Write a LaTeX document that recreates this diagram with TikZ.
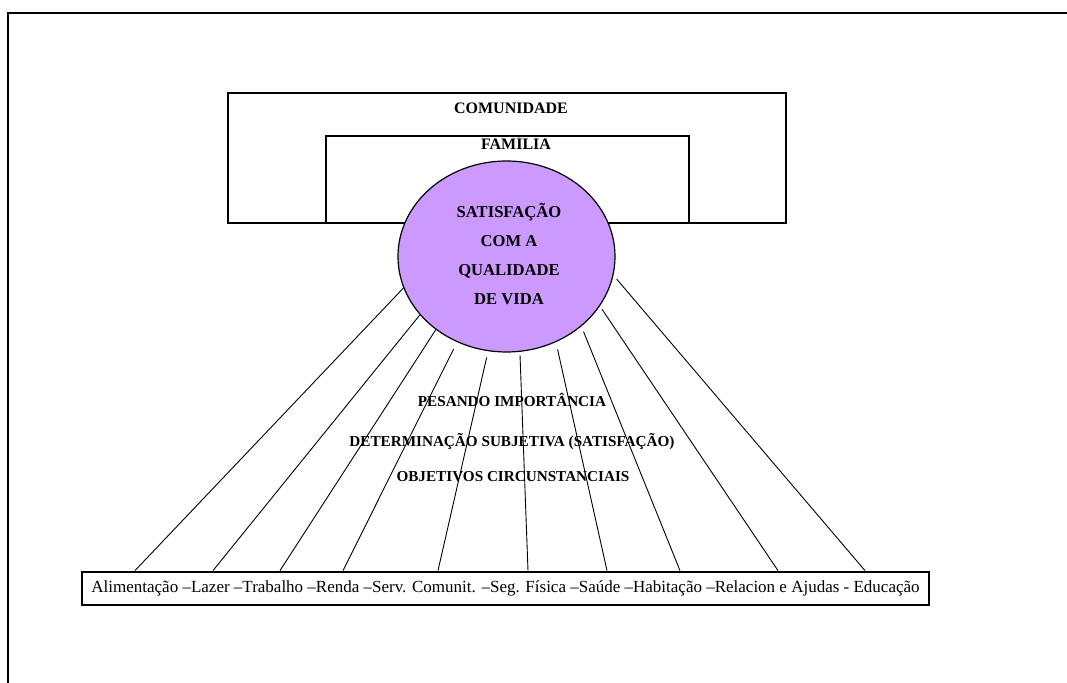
\documentclass[tikz,border=0pt]{standalone}
\usepackage{fontspec}
\setmainfont{Liberation Serif}
\usetikzlibrary{shapes.geometric}
\definecolor{lilas}{RGB}{204,153,255}

\begin{document}
\begin{tikzpicture}[x=0.5pt,y=-0.5pt,
  rotulo/.style={font=\fontsize{8}{9}\selectfont\bfseries, inner sep=0pt},
  meio/.style={font=\fontsize{7.6}{9}\selectfont\bfseries, inner sep=0pt},
  caixa/.style={draw, line width=0.6pt}]
\useasboundingbox (0,0) rectangle (1067,683);
% moldura
\draw[line width=1.3pt] (8,683) -- (8,13) -- (1067,13);
% comunidade e familia
\draw[caixa] (228,93) rectangle (786,223);
\draw[caixa] (326,136) rectangle (689,223);
\node[rotulo] (com) at (511,108) {COMUNIDADE};
\node[rotulo] (fam) at (516,143) {FAMÍLIA};
% circulo
\node[ellipse, draw, line width=0.6pt, fill=lilas, minimum width=108.5pt,
  minimum height=95.5pt, inner sep=0pt] (sat) at (506.5,256.5) {};
\node[rotulo, align=center, font=\fontsize{8.3}{14.5}\selectfont\bfseries]
  (satx) at (509,254) {SATISFAÇÃO\\COM A\\QUALIDADE\\DE VIDA};
% barra de dominios
\node[draw, line width=1.4pt, minimum width=423.5pt, minimum height=16.5pt,
  inner sep=0pt, font=\fontsize{8.5}{9}\selectfont] (bar) at (505.5,588.5)
  {Alimentação –Lazer –Trabalho –Renda –Serv. Comunit. –Seg. Física –Saúde –Habitação –Relacion e Ajudas - Educação};
% raios
\foreach \a/\x/\s in {-163/135/0pt, -146/213/0pt, -134/280/0pt, -120/343/3.8pt,
  -101/438/3.2pt, -82/528/1.8pt, -60/607/3.8pt, -43/680/2.8pt, -28/778/1.8pt,
  -10/865/2.5pt}
  \draw[line width=0.45pt, shorten <=\s] (sat.\a) -- (\x,0 |- bar.north);
% textos do meio
\node[meio] (pes) at (512,400) {PESANDO IMPORTÂNCIA};
\node[meio] (det) at (512,442) {DETERMINAÇÃO SUBJETIVA (SATISFAÇÃO)};
\node[meio] (obj) at (513,477) {OBJETIVOS CIRCUNSTANCIAIS};
\end{tikzpicture}
\end{document}
